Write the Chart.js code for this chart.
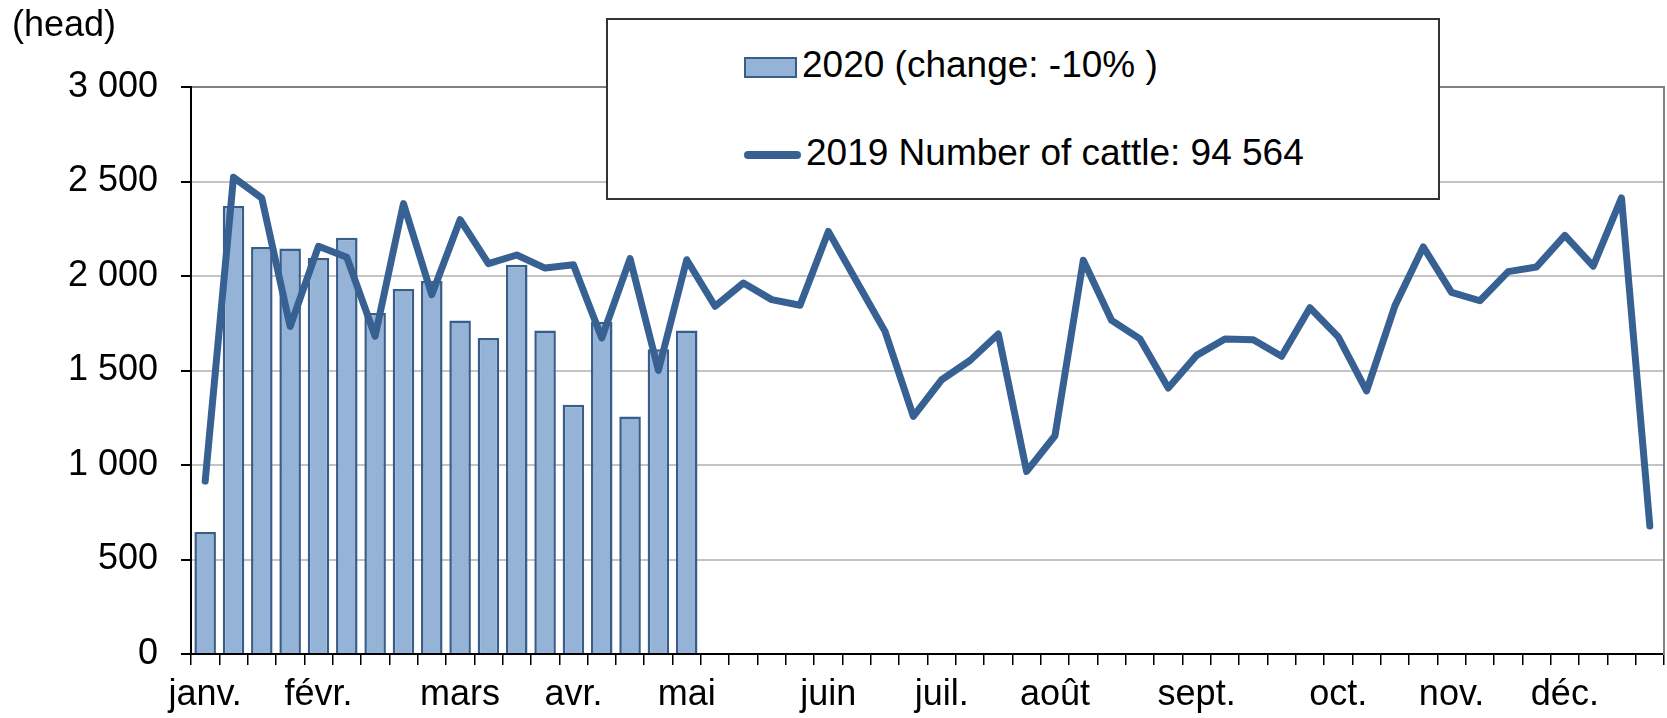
<!DOCTYPE html>
<html>
<head>
<meta charset="utf-8">
<script src="https://cdn.jsdelivr.net/npm/chart.js@4.4.0/dist/chart.umd.min.js"></script>
<style>
    body { margin: 0; background: #fff; font-family: 'Liberation Sans', Arial, sans-serif; }
    #wrap { position: relative; width: 1667px; height: 718px; }
    #unit { position: absolute; left: 12px; top: 3px; font-size: 36px; color: #000; }
    #legend { position: absolute; left: 606px; top: 18px; width: 830px; height: 178px; border: 2px solid #333; background: #fff; }
    .item { position: absolute; left: 136px; font-size: 37px; line-height: 37px; color: #000; white-space: nowrap; }
    .item span { display: inline-block; vertical-align: middle; margin-right: 5px; }
</style>
</head>
<body>
<div id="wrap">
    <canvas id="chart" width="1667" height="718"></canvas>
    <div id="unit">(head)</div>
    <div id="legend"></div>
</div>
<script>
const months = { 0: 'janv.', 4: 'févr.', 9: 'mars', 13: 'avr.', 17: 'mai', 22: 'juin', 26: 'juil.', 30: 'août', 35: 'sept.', 40: 'oct.', 44: 'nov.', 48: 'déc.' };
const weeks = [];
for (let i = 0; i < 52; i++) weeks.push(months[i] || '');

const label2020 = '2020 (change: -10% )';
const label2019 = '2019 Number of cattle: 94 564';

const values2020 = [645, 2370, 2153, 2146, 2095, 2203, 1804, 1931, 1975, 1765, 1672, 2060, 1712, 1319, 1757, 1257, 1612, 1711];

const values2019 = [915, 2522, 2412, 1733, 2157, 2099, 1681, 2383, 1901, 2298, 2065, 2111, 2042, 2060, 1672, 2092, 1500, 2086,
    1840, 1963, 1875, 1845, 2236, 1971, 1707, 1257, 1451, 1553, 1693, 966, 1155, 2083, 1765, 1667, 1407, 1580,
    1667, 1663, 1575, 1832, 1678, 1392, 1842, 2154, 1913, 1869, 2023, 2048, 2215, 2052, 2413, 677];

const yTicks = [0, 500, 1000, 1500, 2000, 2500, 3000];

const font = { family: "'Liberation Sans', Arial, sans-serif", size: 36 };

function spaced(v) {
    return String(v).replace(/\B(?=(\d{3})+(?!\d))/g, ' ');
}

const chart = new Chart(document.getElementById('chart'), {
    type: 'bar',
    data: {
        labels: weeks,
        datasets: [{
            type: 'line',
            label: label2019,
            data: values2019,
            borderColor: '#386193',
            borderWidth: 7,
            pointRadius: 0,
            tension: 0,
            borderCapStyle: 'round',
            borderJoinStyle: 'round',
            order: 0
        }, {
            type: 'bar',
            label: label2020,
            data: values2020,
            backgroundColor: '#95b3d7',
            borderColor: '#385d8a',
            borderWidth: 2.5,
            barPercentage: 0.76,
            categoryPercentage: 1,
            order: 1
        }]
    },
    options: {
        responsive: false,
        animation: false,
        devicePixelRatio: 1,
        layout: { padding: { top: 87, right: 3, left: 0, bottom: 0 } },
        plugins: {
            legend: { display: false },
            tooltip: { enabled: false }
        },
        scales: {
            x: {
                offset: true,
                grid: {
                    offset: true,
                    drawOnChartArea: false,
                    tickLength: 11,
                    color: '#000',
                    lineWidth: 1.5
                },
                border: { color: '#000', width: 2 },
                ticks: {
                    autoSkip: false,
                    maxRotation: 0,
                    color: '#000',
                    font: font,
                    padding: 8
                },
                afterFit: (scale) => { scale.height = 64; }
            },
            y: {
                min: 0,
                max: 3000,
                afterBuildTicks: (scale) => { scale.ticks = yTicks.map(v => ({ value: v })); },
                grid: {
                    color: (ctx) => ctx.tick.value === 3000 ? '#808080' : (ctx.tick.value === 0 ? '#000' : '#c4c4c4'),
                    lineWidth: 2,
                    tickLength: 10,
                    tickColor: '#000'
                },
                border: { color: '#000', width: 2 },
                ticks: {
                    color: '#000',
                    font: font,
                    padding: 23,
                    callback: (v) => spaced(v)
                },
                afterFit: (scale) => { scale.width = 191; }
            },
            y2: {
                position: 'right',
                min: 0,
                max: 3000,
                grid: { display: false },
                ticks: { display: false },
                border: { color: '#808080', width: 2 },
                afterFit: (scale) => { scale.width = 0; }
            }
        }
    }
});

// legend box drawn over the plot, like the original
const legend = document.getElementById('legend');
const bar = chart.data.datasets[1];
const line = chart.data.datasets[0];
legend.innerHTML =
    '<div class="item" style="top:26px"><span style="width:49px;height:17px;background:' + bar.backgroundColor +
    ';border:2px solid ' + bar.borderColor + '"></span>' + bar.label + '</div>' +
    '<div class="item" style="top:114px"><span style="width:57px;height:8px;border-radius:4px;background:' +
    line.borderColor + '"></span>' + line.label + '</div>';
</script>
</body>
</html>
